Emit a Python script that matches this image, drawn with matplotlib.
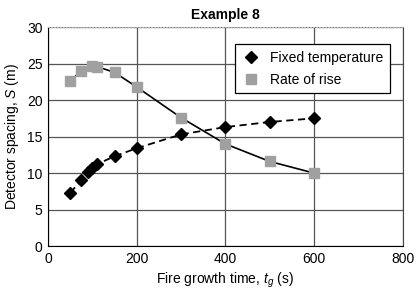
import matplotlib
matplotlib.use("Agg")
import matplotlib.pyplot as plt

plt.rcParams['font.family'] = ['Liberation Sans', 'DejaVu Sans']
plt.rcParams['mathtext.fontset'] = 'custom'
plt.rcParams['mathtext.it'] = 'Liberation Sans:italic'
plt.rcParams['mathtext.rm'] = 'Liberation Sans'

fixed_x = [50, 75, 90, 100, 110, 150, 200, 300, 400, 500, 600]
fixed_y = [7.3, 9.0, 10.2, 10.7, 11.2, 12.3, 13.4, 15.3, 16.3, 17.0, 17.5]
rate_x = [50, 75, 100, 110, 150, 200, 300, 400, 500, 600]
rate_y = [22.6, 24.0, 24.7, 24.6, 23.8, 21.8, 17.6, 14.0, 11.6, 10.0]

fig = plt.figure(figsize=(4.18, 2.95), dpi=100)
ax = fig.add_axes([0.115, 0.166, 0.848, 0.742])

ax.plot(fixed_x, fixed_y, ls=(0, (4, 2.5)), color='black', lw=1.3, marker='D',
        ms=6.5, mfc='black', mec='black', label='Fixed temperature', zorder=3)
ax.plot(rate_x, rate_y, ls='-', color='black', lw=1.2, marker='s',
        ms=6.5, mfc='#a0a0a0', mec='#a0a0a0', label='Rate of rise', zorder=3)

ax.set_xlim(0, 800)
ax.set_ylim(0, 30)
ax.set_xticks([0, 200, 400, 600, 800])
ax.set_yticks([0, 5, 10, 15, 20, 25, 30])
ax.grid(True, color='#555555', lw=0.9)
ax.tick_params(length=0, labelsize=10, pad=4)
ax.spines['top'].set_color('#bbbbbb')
ax.spines['top'].set_linestyle(':')
ax.spines['right'].set_color('#444444')

ax.set_title('Example 8', fontsize=10, fontweight='bold', pad=6)
ax.set_xlabel('Fire growth time, $t_g$ (s)', fontsize=10)
ax.set_ylabel('Detector spacing, $S$ (m)', fontsize=10)

leg = ax.legend(loc='upper right', bbox_to_anchor=(0.985, 0.955), fontsize=10,
                fancybox=False, edgecolor='black', framealpha=1, handlelength=1.2,
                borderpad=0.5, labelspacing=0.55)
leg.get_frame().set_linewidth(0.9)
leg.legend_handles[0].set_linestyle('None')
leg.legend_handles[1].set_linestyle('None')

fig.savefig('out.png', dpi=100)
